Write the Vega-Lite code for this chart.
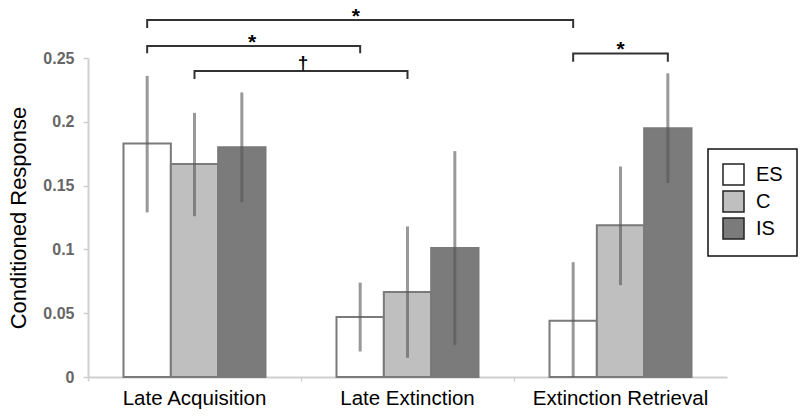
{
  "$schema": "https://vega.github.io/schema/vega-lite/v6.json",
  "width": 639,
  "height": 319,
  "autosize": {"type": "none"},
  "padding": {"left": 88, "top": 58, "right": 73, "bottom": 42},
  "background": "white",
  "config": {
    "view": {"stroke": null},
    "font": "Liberation Sans",
    "legend": {"strokeWidth": 1.5}
  },
  "datasets": {
    "bars": [
      {"group": "Late Acquisition", "cond": "ES", "value": 0.183, "lo": 0.129, "hi": 0.236},
      {"group": "Late Acquisition", "cond": "C", "value": 0.167, "lo": 0.126, "hi": 0.207},
      {"group": "Late Acquisition", "cond": "IS", "value": 0.180, "lo": 0.137, "hi": 0.223},
      {"group": "Late Extinction", "cond": "ES", "value": 0.047, "lo": 0.020, "hi": 0.074},
      {"group": "Late Extinction", "cond": "C", "value": 0.0666, "lo": 0.015, "hi": 0.118},
      {"group": "Late Extinction", "cond": "IS", "value": 0.101, "lo": 0.025, "hi": 0.177},
      {"group": "Extinction Retrieval", "cond": "ES", "value": 0.044, "lo": 0.0, "hi": 0.090},
      {"group": "Extinction Retrieval", "cond": "C", "value": 0.119, "lo": 0.072, "hi": 0.165},
      {"group": "Extinction Retrieval", "cond": "IS", "value": 0.195, "lo": 0.152, "hi": 0.238}
    ],
    "brackets": [
      {"bracket": "b1", "ord": 1, "group": "Late Acquisition", "cond": "ES", "y": 0.2735},
      {"bracket": "b1", "ord": 2, "group": "Late Acquisition", "cond": "ES", "y": 0.2798},
      {"bracket": "b1", "ord": 3, "group": "Extinction Retrieval", "cond": "ES", "y": 0.2798},
      {"bracket": "b1", "ord": 4, "group": "Extinction Retrieval", "cond": "ES", "y": 0.2735},
      {"bracket": "b2", "ord": 1, "group": "Late Acquisition", "cond": "ES", "y": 0.2537},
      {"bracket": "b2", "ord": 2, "group": "Late Acquisition", "cond": "ES", "y": 0.2594},
      {"bracket": "b2", "ord": 3, "group": "Late Extinction", "cond": "ES", "y": 0.2594},
      {"bracket": "b2", "ord": 4, "group": "Late Extinction", "cond": "ES", "y": 0.2537},
      {"bracket": "b3", "ord": 1, "group": "Late Acquisition", "cond": "C", "y": 0.2335},
      {"bracket": "b3", "ord": 2, "group": "Late Acquisition", "cond": "C", "y": 0.2398},
      {"bracket": "b3", "ord": 3, "group": "Late Extinction", "cond": "C", "y": 0.2398},
      {"bracket": "b3", "ord": 4, "group": "Late Extinction", "cond": "C", "y": 0.2335},
      {"bracket": "b4", "ord": 1, "group": "Extinction Retrieval", "cond": "ES", "y": 0.247},
      {"bracket": "b4", "ord": 2, "group": "Extinction Retrieval", "cond": "ES", "y": 0.2536},
      {"bracket": "b4", "ord": 3, "group": "Extinction Retrieval", "cond": "IS", "y": 0.2536},
      {"bracket": "b4", "ord": 4, "group": "Extinction Retrieval", "cond": "IS", "y": 0.247}
    ]
  },
  "layer": [
    {
      "data": {"name": "bars"},
      "mark": {"type": "bar", "stroke": "#7a7a7a", "strokeWidth": 2},
      "encoding": {
        "x": {
          "field": "group", "type": "nominal",
          "scale": {"domain": ["Late Acquisition", "Late Extinction", "Extinction Retrieval"], "paddingInner": 0, "paddingOuter": 0},
          "axis": {
            "title": null, "labelAngle": 0, "labelFontSize": 20.5, "labelColor": "#000",
            "labelPadding": 7, "domainColor": "#cfcfcf", "domainWidth": 2,
            "ticks": true, "tickSize": 4, "tickColor": "#cfcfcf", "tickWidth": 1.5, "bandPosition": 0
          }
        },
        "xOffset": {
          "field": "cond", "type": "nominal",
          "scale": {"domain": ["ES", "C", "IS"], "paddingInner": 0, "paddingOuter": 0.75}
        },
        "y": {
          "field": "value", "type": "quantitative",
          "scale": {"domain": [0, 0.25], "nice": false, "zero": true},
          "axis": {
            "title": "Conditioned Response", "titleFontSize": 22, "titleFontWeight": "normal",
            "titleColor": "#000", "titlePadding": 12,
            "values": [0, 0.05, 0.1, 0.15, 0.2, 0.25], "format": "~g",
            "labelFontSize": 16, "labelFontWeight": "bold", "labelColor": "#666",
            "labelPadding": 9, "grid": false,
            "domainColor": "#cfcfcf", "domainWidth": 2,
            "tickSize": 5, "tickColor": "#cfcfcf", "tickWidth": 1.5
          }
        },
        "fill": {
          "field": "cond", "type": "nominal",
          "scale": {"domain": ["ES", "C", "IS"], "range": ["#ffffff", "#bfbfbf", "#7b7b7b"]},
          "legend": {
            "title": null, "orient": "none", "legendX": 620, "legendY": 91,
            "symbolType": "square", "symbolSize": 441, "symbolStrokeColor": "#222",
            "symbolStrokeWidth": 1.5, "symbolOpacity": 1,
            "labelFontSize": 20, "labelColor": "#000", "labelOffset": 11,
            "rowPadding": 0, "padding": 14, "strokeColor": "#111",
            "fillColor": "white"
          }
        }
      }
    },
    {
      "data": {"name": "bars"},
      "mark": {"type": "rule", "color": "#555", "opacity": 0.6, "strokeWidth": 3},
      "encoding": {
        "x": {"field": "group", "type": "nominal"},
        "xOffset": {"field": "cond", "type": "nominal"},
        "y": {"field": "lo", "type": "quantitative"},
        "y2": {"field": "hi"}
      }
    },
    {
      "data": {"name": "brackets"},
      "mark": {"type": "line", "color": "#333", "strokeWidth": 2, "interpolate": "linear"},
      "encoding": {
        "x": {"field": "group", "type": "nominal"},
        "xOffset": {"field": "cond", "type": "nominal"},
        "y": {"field": "y", "type": "quantitative"},
        "detail": {"field": "bracket"},
        "order": {"field": "ord", "type": "quantitative"}
      }
    },
    {
      "data": {"values": [{"label": "*", "group": "Late Extinction", "y": 0.2798}]},
      "mark": {"type": "text", "fontSize": 21, "fontWeight": "bold", "color": "#000", "baseline": "alphabetic", "dy": 3},
      "encoding": {
        "x": {"field": "group", "type": "nominal", "bandPosition": 0.258},
        "y": {"field": "y", "type": "quantitative"},
        "text": {"field": "label"}
      }
    },
    {
      "data": {"values": [{"label": "*", "group": "Late Acquisition", "y": 0.2594}]},
      "mark": {"type": "text", "fontSize": 21, "fontWeight": "bold", "color": "#000", "baseline": "alphabetic", "dy": 3},
      "encoding": {
        "x": {"field": "group", "type": "nominal", "bandPosition": 0.77},
        "y": {"field": "y", "type": "quantitative"},
        "text": {"field": "label"}
      }
    },
    {
      "data": {"values": [{"label": "†", "group": "Late Extinction", "y": 0.2398}]},
      "mark": {"type": "text", "fontSize": 19, "fontWeight": "bold", "color": "#000", "baseline": "alphabetic", "dy": -2},
      "encoding": {
        "x": {"field": "group", "type": "nominal", "bandPosition": 0.01},
        "y": {"field": "y", "type": "quantitative"},
        "text": {"field": "label"}
      }
    },
    {
      "data": {"values": [{"label": "*", "group": "Extinction Retrieval", "y": 0.2536}]},
      "mark": {"type": "text", "fontSize": 21, "fontWeight": "bold", "color": "#000", "baseline": "alphabetic", "dy": 3},
      "encoding": {
        "x": {"field": "group", "type": "nominal", "bandPosition": 0.5},
        "y": {"field": "y", "type": "quantitative"},
        "text": {"field": "label"}
      }
    }
  ]
}
